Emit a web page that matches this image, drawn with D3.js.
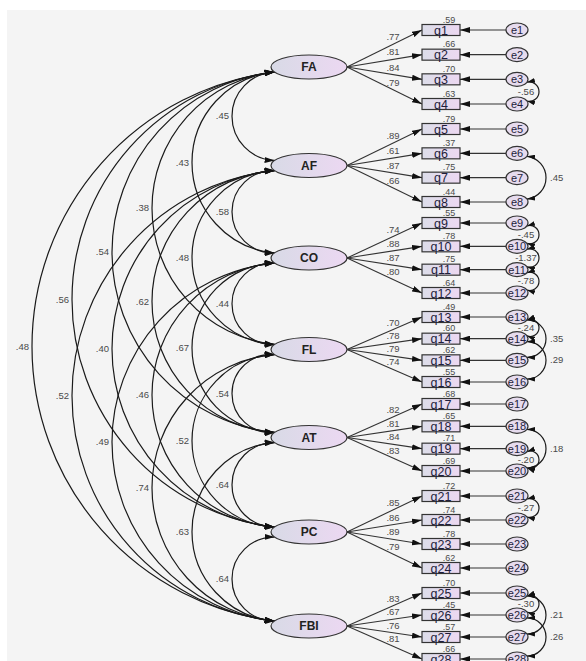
<!DOCTYPE html>
<html>
<head>
<meta charset="utf-8">
<script src="https://cdn.jsdelivr.net/npm/d3@7"></script>
<style>
body { margin: 0; background: #fff; }
svg { display: block; font-family: "Liberation Sans", Arial, sans-serif; }
.num { font-size: 9.5px; fill: #4a4a4a; }
.r2 { font-size: 9px; fill: #4a4a4a; }
.box-label { font-size: 12.5px; fill: #1e1e3c; }
.err-label { font-size: 11px; fill: #1e1e3c; }
.lat-label { font-size: 12px; font-weight: bold; fill: #222; }
</style>
</head>
<body>
<svg width="586" height="661"></svg>
<script>
const latents = ['FA', 'AF', 'CO', 'FL', 'AT', 'PC', 'FBI'];
const items = ['q1', 'q2', 'q3', 'q4', 'q5', 'q6', 'q7', 'q8', 'q9', 'q10', 'q11', 'q12', 'q13', 'q14',
    'q15', 'q16', 'q17', 'q18', 'q19', 'q20', 'q21', 'q22', 'q23', 'q24', 'q25', 'q26', 'q27', 'q28'];
const errors = ['e1', 'e2', 'e3', 'e4', 'e5', 'e6', 'e7', 'e8', 'e9', 'e10', 'e11', 'e12', 'e13', 'e14',
    'e15', 'e16', 'e17', 'e18', 'e19', 'e20', 'e21', 'e22', 'e23', 'e24', 'e25', 'e26', 'e27', 'e28'];
const loadings = [.77, .81, .84, .79, .89, .61, .87, .66, .74, .88, .87, .80, .70, .78,
    .79, .74, .82, .81, .84, .83, .85, .86, .89, .79, .83, .67, .76, .81];
const rSquared = [.59, .66, .70, .63, .79, .37, .75, .44, .55, .78, .75, .64, .49, .60,
    .62, .55, .68, .65, .71, .69, .72, .74, .78, .62, .70, .45, .57, .66];
const factorCorr = [
    ['FA', 'AF', .45], ['FA', 'CO', .43], ['FA', 'FL', .38], ['FA', 'AT', .54], ['FA', 'PC', .56], ['FA', 'FBI', .48],
    ['AF', 'CO', .58], ['AF', 'FL', .48], ['AF', 'AT', .62], ['AF', 'PC', .40], ['AF', 'FBI', .52],
    ['CO', 'FL', .44], ['CO', 'AT', .67], ['CO', 'PC', .46], ['CO', 'FBI', .49],
    ['FL', 'AT', .54], ['FL', 'PC', .52], ['FL', 'FBI', .74],
    ['AT', 'PC', .64], ['AT', 'FBI', .63],
    ['PC', 'FBI', .64]
];
const errorCov = [
    ['e3', 'e4', -.56], ['e6', 'e8', .45], ['e9', 'e10', -.45], ['e10', 'e11', -1.37], ['e11', 'e12', -.78],
    ['e13', 'e14', -.24], ['e13', 'e15', .35], ['e14', 'e16', .29], ['e18', 'e20', .18], ['e19', 'e20', -.20],
    ['e21', 'e22', -.27], ['e25', 'e26', -.30], ['e25', 'e27', .21], ['e26', 'e28', .26]
];

// layout
const latX = 309, latRx = 38, latRy = 12;
const boxX = 422, boxW = 38, boxH = 11;
const errX = 517, errRx = 11, errRy = 7;

const yItem = d3.scaleLinear()
    .domain([0, 3, 4, 7, 8, 11, 12, 15, 16, 19, 20, 23, 24, 27])
    .range([30, 104, 129, 202, 223, 293, 317, 382, 404, 471, 496, 568, 593, 659]);
const xArc = d3.scaleLinear().domain([1, 6]).range([232, 32]);

// AMOS style: no leading zero, plain hyphen for minus
const fmt = (v) => d3.format('.2f')(v).replace('\u2212', '-').replace(/^(-?)0\./, '$1.');
const latIndex = (name) => latents.indexOf(name);
const yLatent = (name) => (yItem(latIndex(name) * 4) + yItem(latIndex(name) * 4 + 3)) / 2;
const yErr = (name) => yItem(errors.indexOf(name));

function arcPath (x1, y1, x2, y2, xExt, sweep) {
    const h = Math.hypot(x2 - x1, y2 - y1) / 2;
    const s = Math.abs(xExt - (x1 + x2) / 2);
    const r = (h * h + s * s) / (2 * s);
    const large = s > h ? 1 : 0;
    return `M${x1},${y1} A${r},${r} 0 ${large} ${sweep} ${x2},${y2}`;
}

function addMarker (defs, id, w, h) {
    defs.append('marker')
        .attr('id', id)
        .attr('viewBox', '0 0 10 6')
        .attr('markerUnits', 'userSpaceOnUse')
        .attr('markerWidth', w)
        .attr('markerHeight', h)
        .attr('refX', 10)
        .attr('refY', 3)
        .attr('orient', 'auto-start-reverse')
        .append('path')
        .attr('d', 'M0,0L10,3L0,6Z')
        .attr('fill', '#111');
}

function addDefs (svg) {
    const defs = svg.append('defs');
    addMarker(defs, 'arrow', 10, 6);
    addMarker(defs, 'arrowSmall', 8, 5);
    const lg = defs.append('linearGradient').attr('id', 'latGrad');
    lg.append('stop').attr('offset', '0%').attr('stop-color', '#d8dae6');
    lg.append('stop').attr('offset', '100%').attr('stop-color', '#ecd8f2');
    const bg = defs.append('linearGradient').attr('id', 'boxGrad');
    bg.append('stop').attr('offset', '0%').attr('stop-color', '#dcdde9');
    bg.append('stop').attr('offset', '100%').attr('stop-color', '#ecd8f1');
}

function drawFactorCorr (svg) {
    const g = svg.append('g');
    const px = latX - latRx * Math.cos(25 * Math.PI / 180);
    const dy = latRy * Math.sin(25 * Math.PI / 180);
    factorCorr.forEach(([a, b, v]) => {
        const d = latIndex(b) - latIndex(a);
        const y1 = yLatent(a) + dy, y2 = yLatent(b) - dy;
        g.append('path')
            .attr('d', arcPath(px, y1, px, y2, xArc(d), 0))
            .attr('fill', 'none')
            .attr('stroke', '#1a1a1a')
            .attr('stroke-width', 1.2)
            .attr('marker-start', 'url(#arrow)')
            .attr('marker-end', 'url(#arrow)');
        g.append('text')
            .attr('class', 'num')
            .attr('x', xArc(d) - 3)
            .attr('y', (y1 + y2) / 2 + 3)
            .attr('text-anchor', 'end')
            .text(fmt(v));
    });
}

function drawMeasurement (svg) {
    const g = svg.append('g');
    items.forEach((q, i) => {
        const lat = latents[Math.floor(i / 4)];
        const x0 = latX + latRx, y0 = yLatent(lat);
        const y = yItem(i);
        g.append('line')
            .attr('x1', x0).attr('y1', y0)
            .attr('x2', boxX).attr('y2', y)
            .attr('stroke', '#333')
            .attr('stroke-width', 1.1)
            .attr('marker-end', 'url(#arrow)');
        g.append('line')
            .attr('x1', errX - errRx).attr('y1', y)
            .attr('x2', boxX + boxW).attr('y2', y)
            .attr('stroke', '#333')
            .attr('stroke-width', 1.1)
            .attr('marker-end', 'url(#arrow)');
        const t = (393 - x0) / (boxX - x0);
        g.append('text')
            .attr('class', 'num')
            .attr('x', 393)
            .attr('y', y0 + t * (y - y0) - 4)
            .attr('text-anchor', 'middle')
            .text(fmt(loadings[i]));
        g.append('text')
            .attr('class', 'r2')
            .attr('x', boxX + boxW / 2 + 8)
            .attr('y', y - boxH / 2 - 2)
            .attr('text-anchor', 'middle')
            .text(fmt(rSquared[i]));
    });
}

function drawErrorCov (svg) {
    const g = svg.append('g');
    const px = errX + errRx * Math.cos(25 * Math.PI / 180);
    const dy = errRy * Math.sin(25 * Math.PI / 180);
    errorCov.forEach(([a, b, v]) => {
        const span = errors.indexOf(b) - errors.indexOf(a);
        const y1 = yErr(a) + dy, y2 = yErr(b) - dy;
        const xr = 532 + 7 * span;
        g.append('path')
            .attr('d', arcPath(px, y1, px, y2, xr, 1))
            .attr('fill', 'none')
            .attr('stroke', '#1a1a1a')
            .attr('stroke-width', 1.2)
            .attr('marker-start', 'url(#arrowSmall)')
            .attr('marker-end', 'url(#arrowSmall)');
        g.append('text')
            .attr('class', 'num')
            .attr('x', span === 1 ? 526 : xr + 4)
            .attr('y', (y1 + y2) / 2 + 3)
            .attr('text-anchor', span === 1 ? 'middle' : 'start')
            .text(fmt(v));
    });
}

function drawNodes (svg) {
    const lat = svg.append('g');
    latents.forEach((name) => {
        lat.append('ellipse')
            .attr('cx', latX).attr('cy', yLatent(name))
            .attr('rx', latRx).attr('ry', latRy)
            .attr('fill', 'url(#latGrad)')
            .attr('stroke', '#333')
            .attr('stroke-width', 1.2);
        lat.append('text')
            .attr('class', 'lat-label')
            .attr('x', latX).attr('y', yLatent(name) + 4)
            .attr('text-anchor', 'middle')
            .text(name);
    });

    const obs = svg.append('g');
    items.forEach((q, i) => {
        obs.append('rect')
            .attr('x', boxX).attr('y', yItem(i) - boxH / 2)
            .attr('width', boxW).attr('height', boxH)
            .attr('fill', 'url(#boxGrad)')
            .attr('stroke', '#333')
            .attr('stroke-width', 1.2);
        obs.append('text')
            .attr('class', 'box-label')
            .attr('x', boxX + boxW / 2).attr('y', yItem(i) + 4.5)
            .attr('text-anchor', 'middle')
            .text(q);
        obs.append('ellipse')
            .attr('cx', errX).attr('cy', yItem(i))
            .attr('rx', errRx).attr('ry', errRy)
            .attr('fill', '#e6dbee')
            .attr('stroke', '#333')
            .attr('stroke-width', 1.2);
        obs.append('text')
            .attr('class', 'err-label')
            .attr('x', errX).attr('y', yItem(i) + 4)
            .attr('text-anchor', 'middle')
            .text(errors[i]);
    });
}

function drawDiagram () {
    const svg = d3.select('svg');
    addDefs(svg);
    svg.append('rect')
        .attr('x', 7).attr('y', 10)
        .attr('width', 579).attr('height', 651)
        .attr('fill', '#f4f4f4');
    drawFactorCorr(svg);
    drawMeasurement(svg);
    drawErrorCov(svg);
    drawNodes(svg);
}

drawDiagram();
</script>
</body>
</html>
